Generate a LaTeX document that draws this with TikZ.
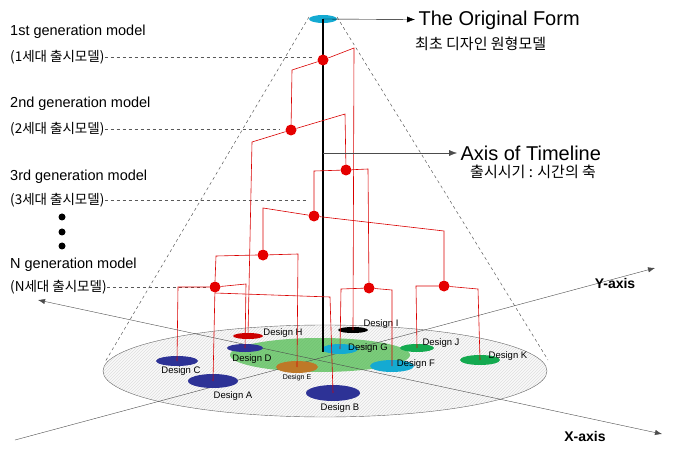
\documentclass[tikz,border=0pt]{standalone}
\usepackage{fontspec}
\setmainfont{Liberation Sans}
\newfontfamily\kr{Noto Sans CJK KR}
\usetikzlibrary{arrows.meta}
\usetikzlibrary{patterns}
\usetikzlibrary{positioning}

\tikzset{
  dot/.style={circle, fill=red!90!black, inner sep=0pt, minimum size=11pt},
  tree/.style={draw=red!85!black, line width=0.6pt},
  design/.style={font=\fontsize{9.5}{10}\selectfont, inner sep=1pt},
  gen/.style={anchor=west, font=\fontsize{14.5}{16}\selectfont, inner sep=0pt},
  kor/.style={anchor=west, font=\fontsize{13.5}{15}\kr, inner sep=0pt},
  guide/.style={dashed, gray!70!black, line width=0.5pt}
}
\definecolor{navy}{RGB}{45,50,150}
\definecolor{cyanish}{RGB}{20,170,210}
\definecolor{greenish}{RGB}{20,170,80}
\definecolor{brownish}{RGB}{190,120,40}

\begin{document}
\begin{tikzpicture}[x=1pt, y=-1pt]
\useasboundingbox (0,0) rectangle (674,454);
% base disc and axes
\fill[gray!4] (325,371) ellipse [x radius=222, y radius=46];
\fill[pattern=north east lines, pattern color=gray!25] (325,371) ellipse [x radius=222, y radius=46];
\draw[gray!80!black] (325,371) ellipse [x radius=222, y radius=46];
\fill[green!45!gray, opacity=0.7] (320,355) ellipse [x radius=90, y radius=17];
\draw[-{Latex[length=7pt]}, gray!60!black] (15,440) -- (655,268);
\draw[{Latex[length=7pt]}-{Latex[length=7pt]}, gray!60!black] (38,300) -- (662,434);
\node[font=\bfseries\fontsize{14}{15}\selectfont] (yax) at (615,283) {Y-axis};
\node[font=\bfseries\fontsize{14}{15}\selectfont] (xax) at (585,436) {X-axis};
% cone
\draw[guide] (309,17) -- (105,362);
\draw[guide] (337,17) -- (548,360);
% designs
\coordinate (dA) at (213,381);
\coordinate (dB) at (333,393);
\coordinate (dC) at (177,361);
\coordinate (dD) at (245,348);
\coordinate (dE) at (297,367);
\coordinate (dF) at (392,366);
\coordinate (dG) at (340,349);
\coordinate (dH) at (248,336);
\coordinate (dI) at (353,330);
\coordinate (dJ) at (417,348);
\coordinate (dK) at (480,360);
\fill[navy] (dB) ellipse [x radius=27, y radius=8];
\fill[navy] (dA) ellipse [x radius=25, y radius=7];
\fill[navy] (dC) ellipse [x radius=21, y radius=5];
\fill[navy] (dD) ellipse [x radius=18, y radius=4];
\fill[brownish] (dE) ellipse [x radius=21, y radius=6];
\fill[cyanish] (dF) ellipse [x radius=22, y radius=6];
\fill[cyanish] (dG) ellipse [x radius=18, y radius=5];
\fill[red!80!black] (dH) ellipse [x radius=15, y radius=3];
\fill[black] (dI) ellipse [x radius=15, y radius=3];
\fill[greenish] (dJ) ellipse [x radius=17, y radius=4];
\fill[greenish] (dK) ellipse [x radius=20, y radius=5];
\node[design] (lA) at (233,396) {Design A};
\node[design] (lB) at (340,408) {Design B};
\node[design] (lC) at (181,371) {Design C};
\node[design] (lD) at (252,359) {Design D};
\node[design, font=\fontsize{7}{8}\selectfont] (lE) at (297,378) {Design E};
\node[design] (lF) at (416,364) {Design F};
\node[design] (lG) at (368,348) {Design G};
\node[design] (lH) at (283,333) {Design H};
\node[design] (lI) at (381,324) {Design I};
\node[design] (lJ) at (441,343) {Design J};
\node[design] (lK) at (508,356) {Design K};
% left labels and guides
\node[gen] (t1) at (10,32) {1st generation model};
\node[kor] (k1) at (10,57) {(1세대 출시모델)};
\node[gen] (t2) at (10,104) {2nd generation model};
\node[kor] (k2) at (10,129) {(2세대 출시모델)};
\node[gen] (t3) at (10,177) {3rd generation model};
\node[kor] (k3) at (10,200) {(3세대 출시모델)};
\node[gen] (tn) at (10,265) {N generation model};
\node[kor] (kn) at (10,287) {(N세대 출시모델)};
\foreach \y in {217,232,246}
  \fill (62,\y) circle (3.5pt);
\coordinate (e1) at (312,57);
\coordinate (e2) at (280,129);
\coordinate (e3) at (308,200);
\coordinate (en) at (206,287);
\draw[guide] (k1) -- (e1);
\draw[guide] (k2) -- (e2);
\draw[guide] (k3) -- (e3);
\draw[guide] (kn) -- (en);
% time axis and origin
\fill[cyanish] (323,19) ellipse [x radius=14, y radius=4];
\coordinate (top) at (323,19);
\coordinate (bot) at (323,352);
\draw[line width=2.5pt] (top) -- (bot);
% generation dots
\node[dot] (g1) at (323,60) {};
\node[dot] (g2) at (291,130) {};
\node[dot] (g3) at (346,170) {};
\node[dot] (g4) at (314,216) {};
\node[dot] (g5) at (263,255) {};
\node[dot] (g6) at (215,287) {};
\node[dot] (g7) at (369,288) {};
\node[dot] (g8) at (444,286) {};
% family tree
\draw[tree] (g1) -- (292,70) -- (g2);
\draw[tree] (g1) -- (354,48) -- (dI);
\draw[tree] (g2) -- (252,142) -- (dH);
\draw[tree] (g2) -- (345,114) -- (g3);
\draw[tree] (g3) -- (314,171) -- (g4);
\draw[tree] (g3) -- (368,169) -- (g7);
\draw[tree] (g4) -- (263,208) -- (g5);
\draw[tree] (g4) -- (444,231) -- (g8);
\draw[tree] (g5.west) -- (216,256) -- (g6.north);
\draw[tree] (g5) -- (298,254) -- (dE);
\draw[tree] (g6) -- (178,287) -- (dC);
\draw[tree] (g6) -- (246,284) -- (dD);
\draw[tree] (g6) -- (dA);
\draw[tree] (215,293) -- (330,297) -- (dB);
\draw[tree] (g7) -- (341,289) -- (dG);
\draw[tree] (g7) -- (392,290) -- (dF);
\draw[tree] (g8) -- (416,286) -- (dJ);
\draw[tree] (g8) -- (478,289) -- (dK);
% right labels
\node[anchor=west, font=\fontsize{20}{22}\selectfont] (orig) at (415,20) {The Original Form};
\node[kor, font=\fontsize{15}{17}\kr] (origk) at (415,44) {최초 디자인 원형모델};
\node[anchor=west, font=\fontsize{20}{22}\selectfont] (axis) at (457,153) {Axis of Timeline};
\node[kor, font=\fontsize{15}{17}\kr] (axisk) at (470,172) {출시시기 : 시간의 축};
\draw[-{Latex[length=8pt]}] (top) -- (orig);
\draw[-{Latex[length=8pt]}, gray!60!black] (323,153) -- (axis);
\end{tikzpicture}
\end{document}
